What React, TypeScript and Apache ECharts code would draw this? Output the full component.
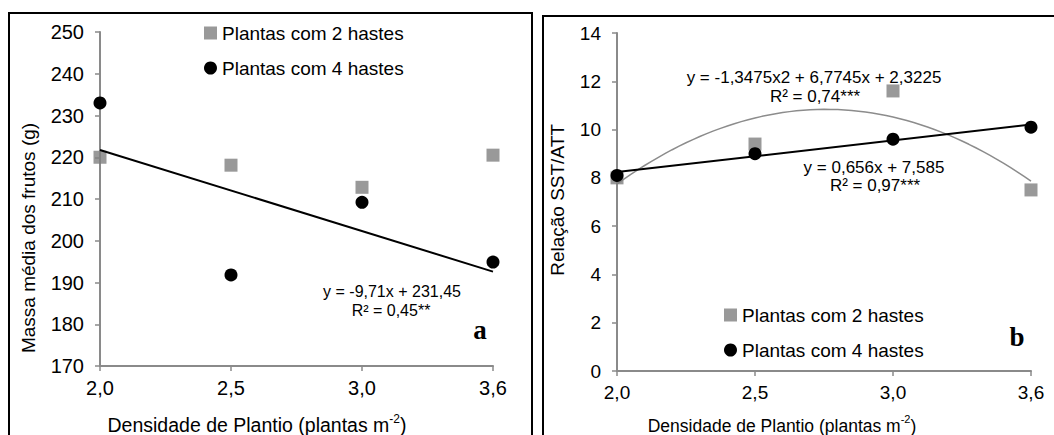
import React, { useEffect, useRef } from "react";
import * as echarts from "echarts";

// ---- data ----
const xLabels = ["2,0", "2,5", "3,0", "3,6"];
const xIdx = [1, 2, 3, 4];
const massa2Hastes = [220.0, 218.1, 212.8, 220.5];
const massa4Hastes = [233.0, 191.8, 209.2, 194.9];
const relacao2Hastes = [8.0, 9.4, 11.6, 7.5];
const relacao4Hastes = [8.1, 9.0, 9.6, 10.1];
// trendline coefficients as printed on the chart
const trendMassa = [-9.71, 231.45]; // y = a x + b
const trendRel2 = [-1.3475, 6.7745, 2.3225]; // y = a x^2 + b x + c
const trendRel4 = [0.656, 7.585]; // y = a x + b

const nameA = "Plantas com 2 hastes";
const nameB = "Plantas com 4 hastes";
const FONT = "Liberation Sans, Arial, sans-serif";

function linPts(c: number[]) {
  return [1, 4].map((x) => [x, c[0] * x + c[1]]);
}
function quadPts(c: number[]) {
  const pts: number[][] = [];
  for (let i = 0; i <= 60; i++) {
    const x = 1 + (3 * i) / 60;
    pts.push([x, c[0] * x * x + c[1] * x + c[2]]);
  }
  return pts;
}

const axisGray = "#8a8a8a";

function xAxisCfg(gridIndex: number, fs: number) {
  return {
    type: "value",
    gridIndex,
    min: 1,
    max: 4,
    interval: 1,
    axisLine: { show: true, lineStyle: { color: axisGray, width: 2 } },
    axisTick: { show: true, length: 5, lineStyle: { color: axisGray, width: 1.5 } },
    splitLine: { show: false },
    axisLabel: {
      color: "#000",
      fontFamily: FONT,
      fontSize: fs,
      margin: 12,
      formatter: (v: number) => xLabels[Math.round(v) - 1] ?? "",
    },
  };
}

function yAxisCfg(gridIndex: number, min: number, max: number, interval: number, fs: number) {
  return {
    type: "value",
    gridIndex,
    min,
    max,
    interval,
    axisLine: { show: true, lineStyle: { color: axisGray, width: 2 } },
    axisTick: { show: true, length: 5, lineStyle: { color: axisGray, width: 1.5 } },
    splitLine: { show: false },
    axisLabel: { color: "#000", fontFamily: FONT, fontSize: fs, margin: 16 },
  };
}

function legendCfg(left: number, top: number) {
  return {
    orient: "vertical",
    left,
    top,
    padding: 0,
    itemGap: 15,
    itemWidth: 13,
    itemHeight: 13,
    data: [nameA, nameB],
    textStyle: { color: "#000", fontFamily: FONT, fontSize: 19, lineHeight: 20 },
    selectedMode: false,
  };
}

function txt(x: number, y: number, text: string, fs: number, extra: any = {}) {
  return {
    type: "text",
    x,
    y,
    ...extra,
    style: {
      text,
      fill: "#000",
      font: `${fs}px ${FONT}`,
      textAlign: "center",
      textVerticalAlign: "middle",
      ...(extra.style || {}),
    },
  };
}

function xTitle(x: number, y: number, fs: number) {
  return {
    type: "text",
    x,
    y,
    style: {
      text: "{m|Densidade de Plantio (plantas m}{s|-2}{m|)}",
      fill: "#000",
      textAlign: "center",
      textVerticalAlign: "middle",
      rich: {
        m: { fontSize: fs, fontFamily: FONT, fill: "#000", lineHeight: 22, verticalAlign: "bottom" },
        s: { fontSize: Math.round(fs * 0.62), fontFamily: FONT, fill: "#000", lineHeight: 22, verticalAlign: "top" },
      },
    },
  };
}

export default function App() {
  const ref = useRef<HTMLDivElement>(null);
  useEffect(() => {
    if (!ref.current) return;
    const chart = echarts.init(ref.current, null, { renderer: "svg" });
    const option: any = {
      animation: false,
      backgroundColor: "#fff",
      grid: [
        { left: 100, top: 32, width: 393, height: 334 },
        { left: 617, top: 33, width: 414, height: 338 },
      ],
      xAxis: [xAxisCfg(0, 20), xAxisCfg(1, 19)],
      yAxis: [yAxisCfg(0, 170, 250, 10, 20), yAxisCfg(1, 0, 14, 2, 19)],
      legend: [legendCfg(204, 23), legendCfg(724, 305)],
      series: [
        {
          name: nameA,
          type: "scatter",
          xAxisIndex: 0,
          yAxisIndex: 0,
          symbol: "rect",
          symbolSize: 13,
          itemStyle: { color: "#808080" },
          data: xIdx.map((x, i) => [x, massa2Hastes[i]]),
          z: 2,
        },
        {
          name: nameB,
          type: "scatter",
          xAxisIndex: 0,
          yAxisIndex: 0,
          symbol: "circle",
          symbolSize: 13,
          itemStyle: { color: "#000", opacity: 1 },
          data: xIdx.map((x, i) => [x, massa4Hastes[i]]),
          z: 3,
        },
        {
          name: "Linear (massa)",
          type: "line",
          xAxisIndex: 0,
          yAxisIndex: 0,
          symbol: "none",
          lineStyle: { color: "#000", width: 2 },
          data: linPts(trendMassa),
          z: 4,
        },
        {
          name: nameA,
          type: "scatter",
          xAxisIndex: 1,
          yAxisIndex: 1,
          symbol: "rect",
          symbolSize: 13,
          itemStyle: { color: "#808080" },
          data: xIdx.map((x, i) => [x, relacao2Hastes[i]]),
          z: 2,
        },
        {
          name: "Polinomial (2 hastes)",
          type: "line",
          xAxisIndex: 1,
          yAxisIndex: 1,
          symbol: "none",
          lineStyle: { color: "#8c8c8c", width: 1.5 },
          data: quadPts(trendRel2),
          z: 2,
        },
        {
          name: nameB,
          type: "scatter",
          xAxisIndex: 1,
          yAxisIndex: 1,
          symbol: "circle",
          symbolSize: 13,
          itemStyle: { color: "#000", opacity: 1 },
          data: xIdx.map((x, i) => [x, relacao4Hastes[i]]),
          z: 3,
        },
        {
          name: "Linear (4 hastes)",
          type: "line",
          xAxisIndex: 1,
          yAxisIndex: 1,
          symbol: "none",
          lineStyle: { color: "#000", width: 2 },
          data: linPts(trendRel4),
          z: 4,
        },
      ],
      graphic: [
        // panel frames
        { type: "polyline", shape: { points: [[9, 445], [9, 13], [532, 13], [532, 445]] }, style: { stroke: "#000", lineWidth: 2, fill: "none" } },
        { type: "polyline", shape: { points: [[543, 445], [543, 16], [1060, 16]] }, style: { stroke: "#000", lineWidth: 2, fill: "none" } },
        // axis titles
        txt(28, 238, "Massa média dos frutos (g)", 19, { rotation: Math.PI / 2 }),
        txt(557, 200, "Relação SST/ATT", 19, { rotation: Math.PI / 2 }),
        xTitle(257, 424, 19.5),
        xTitle(782, 424, 17.5),
        // equations
        txt(392, 291, "y = -9,71x + 231,45", 16),
        txt(391, 310, "R² = 0,45**", 16),
        txt(814, 77, "y = -1,3475x2 + 6,7745x + 2,3225", 17),
        txt(815, 96, "R² = 0,74***", 17),
        txt(874, 167, "y = 0,656x + 7,585", 17),
        txt(875, 185, "R² = 0,97***", 17),
        // panel letters
        { type: "text", x: 480, y: 330, style: { text: "a", fill: "#000", font: "bold 27px Liberation Serif, serif", textAlign: "center", textVerticalAlign: "middle" } },
        { type: "text", x: 1017, y: 337, style: { text: "b", fill: "#000", font: "bold 27px Liberation Serif, serif", textAlign: "center", textVerticalAlign: "middle" } },
      ],
    };
    chart.setOption(option);
    return () => chart.dispose();
  }, []);
  return (
    <div
      ref={ref}
      style={{ position: "absolute", left: 0, top: 0, width: 1054, height: 435 }}
    />
  );
}
